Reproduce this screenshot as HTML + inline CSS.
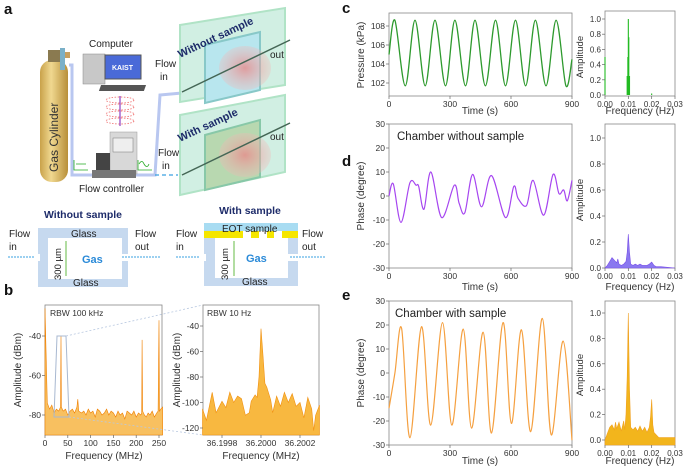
<!DOCTYPE html>
<html><head><meta charset="utf-8">
<style>
html,body{margin:0;padding:0;background:#fff;}
svg{display:block;font-family:"Liberation Sans",Arial,sans-serif;}
</style></head>
<body>
<svg id="fig" width="685" height="470" viewBox="0 0 685 470" xmlns="http://www.w3.org/2000/svg">
<defs>
<linearGradient id="cyl" x1="0" x2="1"><stop offset="0" stop-color="#c9a24a"/><stop offset="0.4" stop-color="#f0d890"/><stop offset="1" stop-color="#b88f38"/></linearGradient>
<radialGradient id="blob"><stop offset="0" stop-color="#e88a8a" stop-opacity="0.8"/><stop offset="1" stop-color="#f5b5b5" stop-opacity="0.3"/></radialGradient>
</defs>
<g font-weight="bold" font-size="15" fill="#111">
<text x="4" y="14">a</text>
<text x="4" y="295">b</text>
<text x="342" y="13">c</text>
<text x="342" y="166">d</text>
<text x="342" y="300">e</text>
</g>

<g>
  <rect x="40" y="60" width="28" height="122" rx="12" fill="url(#cyl)"/>
  <rect x="48" y="50" width="12" height="12" fill="#8a7a50"/>
  <rect x="60" y="52" width="10" height="6" fill="#c8a060"/>
  <rect x="60" y="48" width="5" height="22" fill="#7ab0c8"/>
  <text transform="translate(58,172) rotate(-90)" font-size="12" fill="#333">Gas Cylinder</text>
  <path d="M69 65 L72 65 L72 175 L95 175" fill="none" stroke="#b9c7f0" stroke-width="3"/>
  <path d="M135 175 L155 175 L160 95 L182 93" fill="none" stroke="#b9c7f0" stroke-width="3"/>
  <text x="89" y="47" font-size="10" fill="#222">Computer</text>
  <rect x="83" y="54" width="22" height="30" fill="#c8c8c8" stroke="#888" stroke-width="0.5"/>
  <rect x="105" y="55" width="36" height="24" fill="#4a6ad8" stroke="#555"/>
  <text x="112" y="70" font-size="7" font-weight="bold" fill="#fff">KAIST</text>
  <rect x="100" y="85" width="45" height="6" fill="#555" transform="skewX(-20) translate(32,0)"/>
  <g stroke="#e66" stroke-width="0.8" fill="none" stroke-dasharray="1.5 1.5">
    <ellipse cx="120" cy="100" rx="14" ry="3"/><ellipse cx="120" cy="107" rx="14" ry="3"/><ellipse cx="120" cy="114" rx="14" ry="3"/><ellipse cx="120" cy="121" rx="14" ry="3"/>
  </g>
  <line x1="120" y1="96" x2="120" y2="126" stroke="#9040c0" stroke-width="1.2"/>
  <rect x="110" y="132" width="27" height="42" fill="#d8d8d8" stroke="#999" stroke-width="0.5"/>
  <rect x="113" y="138" width="20" height="14" fill="#eee" stroke="#777" stroke-width="0.5"/>
  <rect x="96" y="153" width="14" height="22" fill="#444"/>
  <rect x="92" y="170" width="44" height="8" fill="#777"/>
  <text x="79" y="192" font-size="10" fill="#222">Flow controller</text>
  <path d="M74 160 v10 h14 M76 164 h10" stroke="#2a2" fill="none" stroke-width="0.8"/>
  <path d="M138 160 v10 h14 M139 164 q3 -5 5 0 q3 5 5 0" stroke="#2a2" fill="none" stroke-width="0.8"/>
  <line x1="155" y1="175" x2="178" y2="175" stroke="#3aa0e0" stroke-width="1.3" stroke-dasharray="4 3"/>
  <text x="155" y="67" font-size="10" fill="#222">Flow</text><text x="160" y="80" font-size="10" fill="#222">in</text>
  <text x="158" y="156" font-size="10" fill="#222">Flow</text><text x="162" y="169" font-size="10" fill="#222">in</text>
  <polygon points="180,25 285,8 285,85 180,102" fill="#cdeee0" stroke="#a8e0c0" stroke-width="2" opacity="0.9"/>
  <polygon points="205,45 260,32 260,90 205,103" fill="#b8e6ee" stroke="#88c8c8" stroke-width="2"/>
  <ellipse cx="245" cy="68" rx="26" ry="22" fill="url(#blob)"/>
  <polygon points="180,115 285,95 285,172 180,195" fill="#cdeee0" stroke="#a8e0c0" stroke-width="2" opacity="0.9"/>
  <polygon points="205,135 260,120 260,177 205,190" fill="#b8d8b0" stroke="#88c8a8" stroke-width="2"/>
  <ellipse cx="245" cy="155" rx="26" ry="22" fill="url(#blob)"/>
  <line x1="182" y1="92" x2="290" y2="40" stroke="#465" stroke-width="1.5"/>
  <line x1="182" y1="175" x2="290" y2="123" stroke="#465" stroke-width="1.5"/>
  <text transform="translate(180,58) rotate(-25)" font-size="11" font-weight="bold" fill="#1e2c6a">Without sample</text>
  <text transform="translate(180,142) rotate(-25)" font-size="11" font-weight="bold" fill="#1e2c6a">With sample</text>
  <text x="270" y="58" font-size="10" fill="#222">out</text>
  <text x="270" y="140" font-size="10" fill="#222">out</text>
</g>

<g font-size="10" fill="#222">
  <text x="83" y="218" text-anchor="middle" font-weight="bold" fill="#1e2c6a" font-size="10.5">Without sample</text>
  <rect x="38" y="228" width="90" height="59" fill="#c6d9ef"/>
  <rect x="48" y="238" width="74" height="41" fill="#fff"/>
  <rect x="10" y="254" width="30" height="7" fill="#fff"/><rect x="120" y="254" width="42" height="7" fill="#fff"/>
  <line x1="8" y1="257" x2="34" y2="257" stroke="#3aa0e0" stroke-dasharray="2 1"/>
  <line x1="122" y1="257" x2="160" y2="257" stroke="#3aa0e0" stroke-dasharray="2 1"/>
  <line x1="66" y1="241" x2="66" y2="276" stroke="#6b4" stroke-width="1"/>
  <text x="9" y="237">Flow</text><text x="9" y="250">in</text>
  <text x="135" y="237">Flow</text><text x="135" y="250">out</text>
  <text x="71" y="237">Glass</text><text x="73" y="286">Glass</text>
  <text x="82" y="263" font-weight="bold" fill="#2a8ad8" font-size="11">Gas</text>
  <text transform="translate(61,280) rotate(-90)" font-size="9.5">300 µm</text>

  <text x="250" y="214" text-anchor="middle" font-weight="bold" fill="#1e2c6a" font-size="10.5">With sample</text>
  <rect x="204" y="229" width="94" height="57" fill="#c6d9ef"/>
  <rect x="204" y="223" width="94" height="8" fill="#a8dcf2"/>
  <rect x="204" y="231" width="94" height="7" fill="#f5e600"/>
  <rect x="215" y="238" width="73" height="40" fill="#fff"/>
  <rect x="243" y="231" width="8" height="7" fill="#fff"/><rect x="259" y="231" width="8" height="7" fill="#fff"/><rect x="274" y="231" width="8" height="7" fill="#fff"/>
  <rect x="176" y="254" width="30" height="7" fill="#fff"/><rect x="288" y="254" width="42" height="7" fill="#fff"/>
  <line x1="176" y1="257" x2="200" y2="257" stroke="#3aa0e0" stroke-dasharray="2 1"/>
  <line x1="290" y1="257" x2="326" y2="257" stroke="#3aa0e0" stroke-dasharray="2 1"/>
  <line x1="234" y1="241" x2="234" y2="276" stroke="#6b4" stroke-width="1"/>
  <text x="176" y="237">Flow</text><text x="176" y="250">in</text>
  <text x="302" y="237">Flow</text><text x="302" y="250">out</text>
  <text x="222" y="232">EOT sample</text><text x="242" y="285">Glass</text>
  <text x="246" y="262" font-weight="bold" fill="#2a8ad8" font-size="11">Gas</text>
  <text transform="translate(228,280) rotate(-90)" font-size="9.5">300 µm</text>
</g>

<g id="charts"></g>
</svg>
<script>
const cTime=[0,29,80,128,178,226,278,324,376,423,474,524,573,622,672,720,772,822,870,900];
const cPressure=[105,108.6,101.7,108.6,101.7,108.6,101.7,108.6,101.7,108.6,101.7,108.6,101.7,108.6,101.7,108.6,101.7,108.6,101.7,104.5];
const cFftFreq=[0,0.0095,0.0098,0.01,0.0102,0.0105,0.02];
const cFftAmp=[0.5,0.25,0.5,1.0,0.76,0.25,0.02];
const dTime=[0,21,59,103,133,146,172,206,259,321,345,373,411,455,504,573,614,635,676,709,761,807,836,859,877,900];
const dPhase=[0,5,-11,5.5,4.5,4,-5.5,10,-9,4.5,-3,-7,9,-4.5,8.5,-9,4,-1,-4,6.5,-8,9,1,2.5,-2,6.5];
const dFftFreq=[0,0.001,0.002,0.003,0.004,0.005,0.0055,0.006,0.007,0.008,0.009,0.0095,0.01,0.0105,0.011,0.012,0.013,0.014,0.015,0.016,0.017,0.018,0.019,0.02,0.021,0.022,0.024,0.03];
const dFftAmp=[0,0.02,0.05,0.08,0.06,0.04,0.07,0.03,0.02,0.03,0.05,0.12,0.26,0.12,0.03,0.02,0.03,0.02,0.03,0.02,0.02,0.02,0.03,0.045,0.02,0.01,0.01,0];
const eTime=[0,29,62,103,160,205,263,309,365,406,463,504,561,602,651,697,754,798,856,900];
const ePhase=[-14.7,0,18.6,-27,19.3,-21.7,21,-21.7,18.3,-23,17,-25,21,-21,18,-24.4,22.8,-25.8,13.3,-28];
const eFftFreq=[0,0.001,0.002,0.003,0.004,0.0045,0.005,0.006,0.007,0.008,0.0085,0.009,0.0095,0.01,0.0105,0.011,0.012,0.013,0.014,0.015,0.016,0.017,0.018,0.019,0.0195,0.02,0.0205,0.021,0.022,0.023,0.025,0.03];
const eFftAmp=[0,0.05,0.1,0.12,0.08,0.14,0.09,0.14,0.07,0.15,0.08,0.2,0.5,1.0,0.4,0.1,0.08,0.1,0.07,0.11,0.07,0.1,0.06,0.1,0.18,0.32,0.12,0.06,0.04,0.02,0.02,0.02];
const bWideFreq=[0,5,10,15,20,25,30,34,35,36,40,45,50,55,60,65,70,72,74,80,85,90,95,100,105,110,115,120,125,130,135,140,145,150,155,160,165,170,175,180,185,190,195,200,205,210,212,213,214,218,222,226,230,235,240,245,248,250,251,254,258];
const bWideAmp=[-26,-74,-77,-75,-79,-77,-78,-76,-40,-76,-78,-77,-80,-78,-77,-79,-76,-72,-78,-79,-78,-80,-77,-79,-78,-81,-77,-78,-80,-79,-77,-80,-78,-79,-81,-78,-80,-79,-82,-78,-79,-80,-78,-81,-79,-80,-79,-42,-78,-80,-81,-79,-80,-78,-81,-79,-78,-32,-78,-77,-76];
const bNarrowFreq=[36.1997,36.19972,36.19975,36.19977,36.1998,36.19982,36.19984,36.19986,36.19988,36.1999,36.19992,36.19994,36.19995,36.19997,36.19998,36.19999,36.2,36.20001,36.20002,36.20003,36.20005,36.20006,36.20008,36.2001,36.20012,36.20014,36.20016,36.20018,36.2002,36.20022,36.20024,36.20026,36.20027,36.20028,36.2003];
const bNarrowAmp=[-105,-114,-92,-108,-99,-104,-92,-100,-95,-97,-110,-108,-99,-94,-96,-80,-42,-62,-85,-88,-98,-108,-95,-103,-92,-100,-93,-103,-100,-112,-96,-105,-122,-110,-102];
const cTicksX=[0,300,600,900], cTicksY=[102,104,106,108];
const phaseTicks=[-30,-20,-10,0,10,20,30];
const fftTicksX=[0,0.01,0.02,0.03], fftTicksY=[0,0.2,0.4,0.6,0.8,1.0];
const bWideTicksX=[0,50,100,150,200,250], bWideTicksY=[-80,-60,-40];
const bNarrowTicksX=[36.1998,36.2,36.2002], bNarrowTicksY=[-120,-100,-80,-60,-40];

const NS='http://www.w3.org/2000/svg';
const root=document.getElementById('charts');
function mk(tag,attrs,parent){const e=document.createElementNS(NS,tag);for(const k in attrs)e.setAttribute(k,attrs[k]);(parent||root).appendChild(e);return e;}
function lin(d0,d1,r0,r1){return v=>r0+(v-d0)/(d1-d0)*(r1-r0);}
function spline(pts){let d='M'+pts[0][0]+' '+pts[0][1];for(let i=0;i<pts.length-1;i++){const p0=pts[Math.max(i-1,0)],p1=pts[i],p2=pts[i+1],p3=pts[Math.min(i+2,pts.length-1)];const c1=[p1[0]+(p2[0]-p0[0])/6,p1[1]+(p2[1]-p0[1])/6],c2=[p2[0]-(p3[0]-p1[0])/6,p2[1]-(p3[1]-p1[1])/6];d+=' C'+c1[0].toFixed(1)+' '+c1[1].toFixed(1)+' '+c2[0].toFixed(1)+' '+c2[1].toFixed(1)+' '+p2[0].toFixed(1)+' '+p2[1].toFixed(1);}return d;}
function frame(name,x0,y0,x1,y1){const r=mk('rect',{x:x0,y:y0,width:x1-x0,height:y1-y0,fill:'none',stroke:'#888','stroke-width':0.8});

}
function axes(o){
  const g=mk('g',{'font-size':o.fs||8.5,fill:'#333'});
  
  
  o.tx.forEach((v,i)=>{const x=o.sx(v);mk('line',{x1:x,x2:x,y1:o.y1,y2:o.y1+3,stroke:'#666','stroke-width':0.7},g);const t=mk('text',{x:x,y:o.y1+11,'text-anchor':'middle'},g);t.textContent=o.fx?o.fx(v):v;
    
    });
  o.ty.forEach(v=>{const y=o.sy(v);mk('line',{x1:o.x0-3,x2:o.x0,y1:y,y2:y,stroke:'#666','stroke-width':0.7},g);const t=mk('text',{x:o.x0-4,y:y+3,'text-anchor':'end'},g);t.textContent=o.fy?o.fy(v):v;
    
    });
  if(o.xt){const t=mk('text',{x:o.xtx,y:o.xty,'text-anchor':'middle','font-size':10},g);t.textContent=o.xt;
    
    }
  if(o.yt){const t=mk('text',{transform:'translate('+o.ytx+','+o.yty+') rotate(-90)','text-anchor':'middle','font-size':o.yfs||10},g);t.textContent=o.yt;
    
    }
}
function linePath(name,xs,ys,sx,sy,color,w){const p=mk('path',{d:spline(xs.map((v,i)=>[sx(v),sy(ys[i])])),fill:'none',stroke:color,'stroke-width':w||1.2});

}
function area(name,xs,ys,sx,sy,base,fill,stroke){let d='M'+sx(xs[0])+' '+base;xs.forEach((v,i)=>d+=' L'+sx(v).toFixed(1)+' '+sy(ys[i]).toFixed(1));d+=' L'+sx(xs[xs.length-1])+' '+base+'Z';const p=mk('path',{d:d,fill:fill,stroke:stroke,'stroke-width':0.6});

}
const f2=v=>v.toFixed(2), f1=v=>v.toFixed(1);

{const sx=lin(0,900,389,572),sy=lin(102,108,83,26);
frame('pressure-plot-frame',389,13,572,96);
linePath('pressure-line',cTime,cPressure,sx,sy,'#2e9a2e',1.3);
axes({name:'pressure',sx,sy,tx:cTicksX,ty:cTicksY,x0:389,y1:96,xt:'Time (s)',xtx:480,xty:114,yt:'Pressure (kPa)',ytx:364,yty:55});
const fx=lin(0,0.03,605,675),fy=lin(0,1,95,19);
frame('pressure-fft-frame',605,11,675,96);
cFftFreq.forEach((f,i)=>{const l=mk('line',{x1:fx(f),x2:fx(f),y1:fy(0),y2:fy(cFftAmp[i]),stroke:'#22bb22','stroke-width':1.1});

});
axes({name:'pressure-fft',sx:fx,sy:fy,tx:fftTicksX,ty:fftTicksY,fx:f2,fy:f1,x0:605,y1:96,fs:8,xt:'Frequency (Hz)',xtx:640,xty:114,yt:'Amplitude',ytx:583,yty:57,yfs:9.5});}
{const sx=lin(0,900,389,572),sy=lin(-30,30,268,124);
frame('phase-without-frame',389,124,572,268);
const t=mk('text',{x:397,y:140,'font-size':11.5,fill:'#222'});t.textContent='Chamber without sample';


linePath('phase-without-line',dTime,dPhase,sx,sy,'#a646f0',1.2);
axes({name:'phase-without',sx,sy,tx:cTicksX,ty:phaseTicks,x0:389,y1:268,xt:'Time (s)',xtx:480,xty:290,yt:'Phase (degree)',ytx:364,yty:196});
const fx=lin(0,0.03,605,675),fy=lin(0,1,268,138);
frame('phase-without-fft-frame',605,124,675,268);
area('phase-without-fft-area',dFftFreq,dFftAmp,fx,fy,268,'#8a78f0','#7a50e8');
axes({name:'phase-without-fft',sx:fx,sy:fy,tx:fftTicksX,ty:fftTicksY,fx:f2,fy:f1,x0:605,y1:268,fs:8,xt:'Frequency (Hz)',xtx:640,xty:290,yt:'Amplitude',ytx:583,yty:200,yfs:9.5});}
{const sx=lin(0,900,389,572),sy=lin(-30,30,445,301);
frame('phase-with-frame',389,301,572,445);
const t=mk('text',{x:395,y:317,'font-size':11.5,fill:'#222'});t.textContent='Chamber with sample';


linePath('phase-with-line',eTime,ePhase,sx,sy,'#f5a040',1.2);
axes({name:'phase-with',sx,sy,tx:cTicksX,ty:phaseTicks,x0:389,y1:445,xt:'Time (s)',xtx:480,xty:464,yt:'Phase (degree)',ytx:364,yty:373});
const fx=lin(0,0.03,605,675),fy=lin(0,1,440,313);
frame('phase-with-fft-frame',605,301,675,445);
area('phase-with-fft-area',eFftFreq,eFftAmp,fx,fy,445,'#f2b51c','#f0a020');
axes({name:'phase-with-fft',sx:fx,sy:fy,tx:fftTicksX,ty:fftTicksY,fx:f2,fy:f1,x0:605,y1:445,fs:8,xt:'Frequency (Hz)',xtx:640,xty:464,yt:'Amplitude',ytx:583,yty:375,yfs:9.5});}
{const sx=lin(0,250,45,159),sy=lin(-80,-40,415,336);
frame('spectrum-wide-frame',45,305,162,435);
area('spectrum-wide-area',bWideFreq,bWideAmp,sx,sy,435,'#f8c060','#f08000');
const t=mk('text',{x:50,y:316,'font-size':8.5,fill:'#333'});t.textContent='RBW 100 kHz';


const z=mk('polygon',{points:'57,336 66,336 69,417 54,417',fill:'none',stroke:'#a8b8d0','stroke-width':1});


mk('line',{x1:66,y1:336,x2:203,y2:305,stroke:'#b8c8e0','stroke-width':0.8,'stroke-dasharray':'2 2'});
mk('line',{x1:69,y1:417,x2:203,y2:435,stroke:'#b8c8e0','stroke-width':0.8,'stroke-dasharray':'2 2'});
axes({name:'spectrum-wide',sx,sy,tx:bWideTicksX,ty:bWideTicksY,x0:45,y1:435,xt:'Frequency (MHz)',xtx:104,xty:459,yt:'Amplitude (dBm)',ytx:21,yty:370});
const nx=lin(36.1998,36.2002,222,300),ny=lin(-120,-40,428,326);
frame('spectrum-narrow-frame',203,305,319,435);
area('spectrum-narrow-area',bNarrowFreq,bNarrowAmp,nx,ny,435,'#f8b840','#f09010');
const t2=mk('text',{x:207,y:316,'font-size':8.5,fill:'#333'});t2.textContent='RBW 10 Hz';


axes({name:'spectrum-narrow',sx:nx,sy:ny,tx:bNarrowTicksX,ty:bNarrowTicksY,fx:v=>v.toFixed(4),x0:203,y1:435,xt:'Frequency (MHz)',xtx:261,xty:459,yt:'Amplitude (dBm)',ytx:180,yty:370});}
</script>
</body></html>
